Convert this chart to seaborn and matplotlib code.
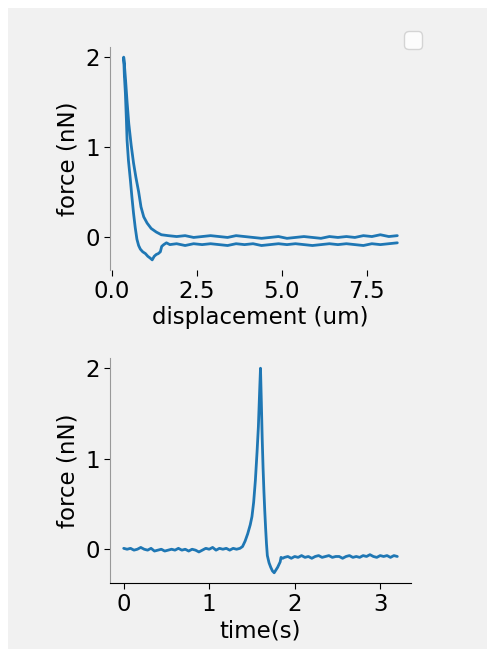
import numpy as np
import pandas as pd
import matplotlib
matplotlib.use("Agg")
import matplotlib.pyplot as plt
import seaborn as sns
from matplotlib.patches import Rectangle

# approach (upper branch), displacement going down to contact
approach_disp = [8.40, 8.15, 7.90, 7.65, 7.40, 7.15, 6.90, 6.65, 6.40, 6.15,
                 5.90, 5.65, 5.40, 5.15, 4.90, 4.65, 4.40, 4.15, 3.90, 3.65,
                 3.40, 3.15, 2.90, 2.65, 2.40, 2.15, 1.90, 1.65, 1.45, 1.30,
                 1.15, 1.03, 0.93, 0.85, 0.78, 0.70, 0.63, 0.56, 0.49, 0.44,
                 0.40, 0.36, 0.34]
approach_force = [0.01, 0.00, 0.02, 0.00, 0.01, -0.01, 0.00, -0.01, 0.00, -0.02,
                  -0.01, 0.00, -0.01, -0.02, 0.00, -0.01, -0.02, -0.01, 0.00, 0.01,
                  -0.01, 0.00, 0.01, 0.00, -0.01, 0.01, 0.00, 0.01, 0.02, 0.05,
                  0.09, 0.15, 0.22, 0.33, 0.50, 0.66, 0.82, 1.02, 1.26, 1.50,
                  1.72, 1.92, 2.00]

# retract (lower branch)
retract_disp = [0.34, 0.36, 0.39, 0.42, 0.44, 0.48, 0.54, 0.58, 0.63, 0.68,
                0.73, 0.78, 0.83, 0.90, 0.98, 1.05, 1.12, 1.18, 1.24, 1.30,
                1.36, 1.42, 1.46, 1.52, 1.60, 1.70, 1.90, 2.15, 2.40, 2.65,
                2.90, 3.15, 3.40, 3.65, 3.90, 4.15, 4.40, 4.65, 4.90, 5.15,
                5.40, 5.65, 5.90, 6.15, 6.40, 6.65, 6.90, 7.15, 7.40, 7.65,
                7.90, 8.15, 8.40]
retract_force = [2.00, 1.80, 1.60, 1.30, 1.07, 0.85, 0.62, 0.45, 0.26, 0.10,
                 -0.03, -0.10, -0.14, -0.17, -0.19, -0.22, -0.24, -0.26, -0.22, -0.20,
                 -0.19, -0.17, -0.11, -0.09, -0.07, -0.09, -0.08, -0.10, -0.08, -0.09,
                 -0.08, -0.09, -0.10, -0.08, -0.09, -0.08, -0.10, -0.09, -0.08, -0.09,
                 -0.08, -0.09, -0.10, -0.09, -0.08, -0.09, -0.08, -0.09, -0.10, -0.08,
                 -0.09, -0.08, -0.07]

# force vs time
time_s = [0.00, 0.04, 0.08, 0.12, 0.16, 0.20, 0.24, 0.28, 0.32, 0.36,
          0.40, 0.44, 0.48, 0.52, 0.56, 0.60, 0.64, 0.68, 0.72, 0.76,
          0.80, 0.84, 0.88, 0.92, 0.96, 1.00, 1.04, 1.08, 1.12, 1.16,
          1.20, 1.24, 1.28, 1.32, 1.36, 1.39, 1.42, 1.45, 1.48, 1.50,
          1.52, 1.54, 1.56, 1.575, 1.59, 1.60, 1.61, 1.62, 1.63, 1.64,
          1.65, 1.66, 1.67, 1.68, 1.70, 1.72, 1.74, 1.76, 1.78, 1.80,
          1.82, 1.83, 1.84, 1.86, 1.88, 1.92, 1.96, 2.00, 2.04, 2.08,
          2.12, 2.16, 2.20, 2.24, 2.28, 2.32, 2.36, 2.40, 2.44, 2.48,
          2.52, 2.56, 2.60, 2.64, 2.68, 2.72, 2.76, 2.80, 2.84, 2.88,
          2.92, 2.96, 3.00, 3.04, 3.08, 3.12, 3.16, 3.20]
time_force = [0.01, 0.00, 0.01, -0.01, 0.00, 0.02, 0.00, -0.01, 0.01, -0.02,
              -0.01, 0.00, -0.02, -0.01, 0.00, -0.01, 0.01, -0.01, 0.00, -0.02,
              0.00, -0.01, -0.03, -0.01, 0.01, 0.00, 0.02, -0.01, 0.01, 0.00,
              0.01, -0.01, 0.01, 0.00, 0.01, 0.03, 0.09, 0.17, 0.27, 0.36,
              0.52, 0.76, 1.08, 1.35, 1.75, 2.00, 1.62, 1.22, 0.90, 0.64,
              0.42, 0.23, 0.06, -0.07, -0.15, -0.20, -0.24, -0.26, -0.23, -0.20,
              -0.16, -0.14, -0.09, -0.10, -0.09, -0.08, -0.10, -0.08, -0.09, -0.07,
              -0.09, -0.08, -0.10, -0.08, -0.07, -0.09, -0.08, -0.07, -0.09, -0.08,
              -0.08, -0.10, -0.08, -0.07, -0.09, -0.08, -0.09, -0.07, -0.08, -0.06,
              -0.08, -0.09, -0.07, -0.08, -0.07, -0.09, -0.07, -0.08]

sns.set_style("ticks")
plt.rcParams['font.family'] = ['DejaVu Sans']
plt.rcParams['text.color'] = 'black'
plt.rcParams['axes.labelcolor'] = 'black'
plt.rcParams['xtick.color'] = 'black'
plt.rcParams['ytick.color'] = 'black'

FS = 16.5
LINE = "#1f77b4"
BG = "#f1f1f1"

fig = plt.figure(figsize=(4.87, 6.5), dpi=100, facecolor="white")
fig.patches.append(Rectangle((8 / 487, 1 / 650), 479 / 487, 641 / 650,
                             transform=fig.transFigure, facecolor=BG,
                             edgecolor="none", zorder=-10))

ax1 = fig.add_axes([110 / 487, 1 - 270 / 650, 301 / 487, 223 / 650])
ax2 = fig.add_axes([110 / 487, 1 - 583 / 650, 301 / 487, 225 / 650])

disp_df = pd.DataFrame({
    "disp": approach_disp + retract_disp,
    "force": approach_force + retract_force,
})
time_df = pd.DataFrame({"t": time_s, "force": time_force})

sns.lineplot(data=disp_df, x="disp", y="force", sort=False, estimator=None,
             color=LINE, lw=2.0, ax=ax1)
sns.lineplot(data=time_df, x="t", y="force", sort=False, estimator=None,
             color=LINE, lw=2.0, ax=ax2)

for ax in (ax1, ax2):
    ax.set_facecolor("none")
    ax.spines["top"].set_visible(False)
    ax.spines["right"].set_visible(False)
    ax.spines["left"].set_color("#999999")
    ax.tick_params(labelsize=FS, length=4, color="black", labelcolor="black")
    ax.set_ylabel("force (nN)", fontsize=FS, color="black")
    ax.set_yticks([0, 1, 2])

ax1.spines["bottom"].set_visible(False)
ax1.set_xticks([0.0, 2.5, 5.0, 7.5])
ax1.set_xlabel("displacement (um)", fontsize=FS, labelpad=2, color="black")
ax2.spines["bottom"].set_color("black")
ax2.set_xticks([0, 1, 2, 3])
ax2.set_xlabel("time(s)", fontsize=FS, labelpad=2, color="black")

fig.legend(handles=[], loc="upper left", bbox_to_anchor=(404 / 487, 1 - 31 / 650),
           frameon=True, fancybox=True, framealpha=0.8, edgecolor="0.8",
           borderaxespad=0, fontsize=FS)

fig.savefig("out.png", dpi=100, facecolor="white")
